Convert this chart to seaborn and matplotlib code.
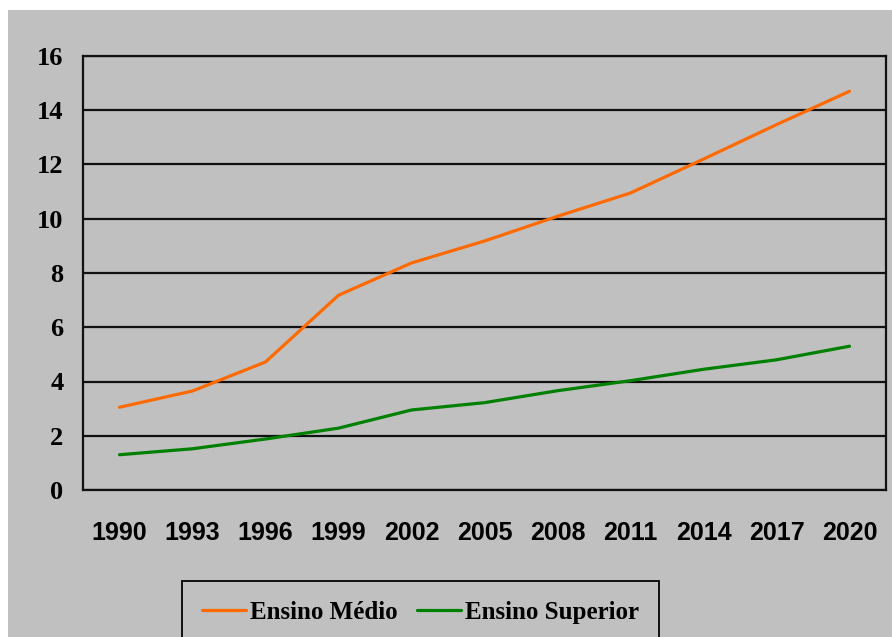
import pandas as pd
import numpy as np
import seaborn as sns
import matplotlib.pyplot as plt
from matplotlib.patches import Rectangle
from matplotlib.ticker import FixedLocator

# values
anos = ['1990', '1993', '1996', '1999', '2002', '2005', '2008', '2011', '2014', '2017', '2020']
ensino_medio = [3.05, 3.65, 4.72, 7.18, 8.37, 9.18, 10.09, 10.95, 12.2, 13.47, 14.7]
ensino_superior = [1.3, 1.52, 1.88, 2.28, 2.95, 3.22, 3.66, 4.03, 4.45, 4.8, 5.3]
y_ticks = [0, 2, 4, 6, 8, 10, 12, 14, 16]

df = pd.DataFrame({
    'ano': anos * 2,
    'valor': ensino_medio + ensino_superior,
    'serie': ['Ensino Médio'] * len(anos) + ['Ensino Superior'] * len(anos),
})

sns.set_style('white')
bg = '#c0c0c0'
ink = '#111111'

fig = plt.figure(figsize=(8.92, 6.37), dpi=100, facecolor='white')
fig.patches.append(Rectangle((8 / 892, 0), 1, 1 - 10 / 637, transform=fig.transFigure,
                             facecolor=bg, edgecolor='none', zorder=-10))
ax = fig.add_axes([83 / 892, 147 / 637, 803 / 892, 434 / 637])
ax.set_facecolor(bg)

sns.lineplot(data=df, x='ano', y='valor', hue='serie', sort=False,
             palette={'Ensino Médio': '#ff6a00', 'Ensino Superior': '#008000'},
             linewidth=2.3, ax=ax, legend=False)

ax.set_xlim(-0.5, len(anos) - 0.5)
ax.set_ylim(0, 16)
ax.set_yticks(y_ticks)
ax.set_yticklabels([str(v) for v in y_ticks], fontfamily='Liberation Serif',
                   fontweight='bold', fontsize=19, color='black')
ax.yaxis.grid(True, color=ink, linewidth=1.6)
ax.set_axisbelow(True)

ax.set_xticks(range(len(anos)))
ax.set_xticklabels(anos, fontfamily='Liberation Sans', fontweight='bold', fontsize=18,
                   color='black')
ax.xaxis.set_minor_locator(FixedLocator(np.arange(-0.5, len(anos), 1.0)))
ax.tick_params(axis='x', which='major', length=0, pad=22)
ax.tick_params(axis='x', which='minor', length=8, width=1.6, color=ink, direction='out')
ax.tick_params(axis='y', length=8, width=1.6, color=ink, direction='out', pad=6)
ax.set_xlabel('')
ax.set_ylabel('')

for side in ['left', 'bottom', 'right', 'top']:
    ax.spines[side].set_visible(True)
    ax.spines[side].set_color(ink)
    ax.spines[side].set_linewidth(1.6)

handles = [plt.Line2D([], [], color='#ff6a00', linewidth=2.3),
           plt.Line2D([], [], color='#008000', linewidth=2.3)]
leg = fig.legend(handles, ['Ensino Médio', 'Ensino Superior'], loc='upper left',
                 bbox_to_anchor=(182 / 892, 1 - 581 / 637), ncol=2, frameon=True,
                 fancybox=False, handlelength=1.75, handletextpad=0.15, columnspacing=0.8,
                 borderpad=0.8, borderaxespad=0, labelcolor='black',
                 prop={'family': 'Liberation Serif', 'weight': 'bold', 'size': 18})
leg.get_frame().set_facecolor(bg)
leg.get_frame().set_edgecolor(ink)
leg.get_frame().set_linewidth(1.4)
leg.get_frame().set_alpha(1)

fig.savefig('out.png', dpi=100, facecolor='white')
